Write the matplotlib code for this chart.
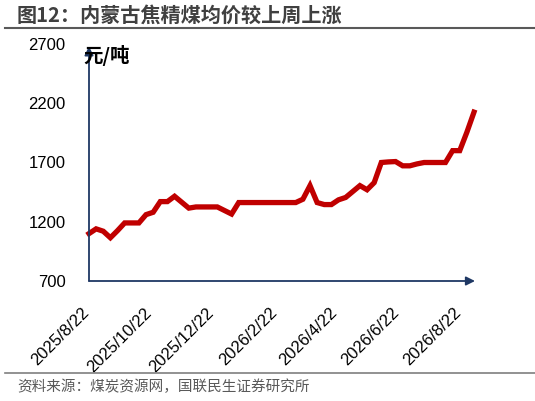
import pandas as pd
import numpy as np
import matplotlib.pyplot as plt
import matplotlib.dates as mdates
import matplotlib.transforms as mtransforms
from matplotlib.lines import Line2D

plt.rcParams['font.family'] = ['Liberation Sans', 'Noto Sans CJK SC']

# === Data (weekly) ===
start_date = "2025-08-22"
prices = [1100, 1140, 1120, 1065, 1125, 1190, 1190, 1190, 1260, 1280,
          1370, 1370, 1415, 1365, 1315, 1325, 1325, 1325, 1325, 1295,
          1265, 1362, 1362, 1362, 1362, 1362, 1362, 1362, 1362, 1362,
          1390, 1505, 1362, 1345, 1345, 1385, 1405, 1455, 1505, 1470,
          1530, 1700, 1705, 1708, 1672, 1672, 1688, 1700, 1700, 1700,
          1700, 1800, 1800, 1955, 2125]
dates = pd.date_range(start_date, periods=len(prices), freq="7D")

tick_dates = ["2025-08-22", "2025-10-22", "2025-12-22", "2026-02-22",
              "2026-04-22", "2026-06-22", "2026-08-22"]
y_ticks = [700, 1200, 1700, 2200, 2700]

title = "图12：内蒙古焦精煤均价较上周上涨"
unit = "元/吨"
source = "资料来源：煤炭资源网，国联民生证券研究所"

axis_color = "#1F3864"
line_color = "#C00000"

# === Plot ===
fig = plt.figure(figsize=(5.35, 4.01), dpi=100)
ax = fig.add_axes([89 / 535, 1 - 281 / 401, (475 - 89) / 535, (281 - 44) / 401])

ax.plot(dates, prices, color=line_color, lw=3.8, solid_joinstyle="miter", clip_on=False, zorder=3)

ax.set_xlim(pd.Timestamp("2025-08-22"), pd.Timestamp("2026-09-05"))
ax.set_ylim(700, 2700)
ax.set_yticks(y_ticks)
ax.set_xticks(pd.to_datetime(tick_dates))
ax.xaxis.set_major_formatter(plt.FuncFormatter(
    lambda v, pos: (lambda d: f"{d.year}/{d.month}/{d.day}")(mdates.num2date(v))))

for s in ax.spines.values():
    s.set_visible(False)
ax.tick_params(length=0, labelsize=12, colors="black")
ax.tick_params(axis="y", pad=17)
ax.tick_params(axis="x", pad=21)
offset = mtransforms.ScaledTranslation(-2 / 100, 0, fig.dpi_scale_trans)
for lab in ax.get_xticklabels():
    lab.set_rotation(45)
    lab.set_ha("right")
    lab.set_va("center")
    lab.set_rotation_mode("anchor")
    lab.set_transform(lab.get_transform() + offset)

# axis arrows
ax.annotate("", xy=(1, 0), xytext=(0, 0), xycoords="axes fraction",
            arrowprops=dict(arrowstyle="-|>", color=axis_color, lw=1.3,
                            mutation_scale=13, shrinkA=0, shrinkB=0))
ax.annotate("", xy=(0, 0.99), xytext=(0, 0), xycoords="axes fraction",
            arrowprops=dict(arrowstyle="-|>", color=axis_color, lw=1.3,
                            mutation_scale=13, shrinkA=0, shrinkB=0))

fig.text(83 / 535, 1 - 55 / 401, unit, fontsize=14, fontweight="bold",
         family=["Noto Sans CJK SC"], va="center", ha="left", color="black")

# header / footer
fig.text(17 / 535, 1 - 15 / 401, title, fontsize=14.5, fontweight="bold",
         family=["Noto Sans CJK SC"], va="center", ha="left", color="#404040")
fig.add_artist(Line2D([5 / 535, 1], [1 - 28 / 401] * 2, color="#595959", lw=1.5))
fig.add_artist(Line2D([5 / 535, 1], [1 - 372.5 / 401] * 2, color="#7F7F7F", lw=1.2))
fig.text(17 / 535, 1 - 387 / 401, source, fontsize=10.5,
         family=["Noto Sans CJK SC"], va="center", ha="left", color="#595959")

fig.savefig("out.png", dpi=100)
